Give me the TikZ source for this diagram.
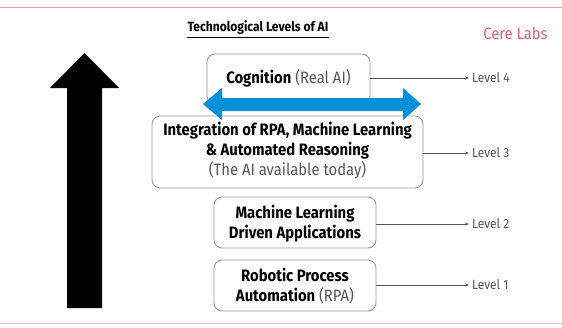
\documentclass[tikz,border=0pt]{standalone}
\usepackage{fontspec}
\setmainfont[FakeStretch=0.9]{Fira Sans}
\usetikzlibrary{arrows.meta}
\definecolor{boxgray}{HTML}{9A9A9A}
\definecolor{txtgray}{HTML}{555555}
\definecolor{arrowblue}{HTML}{0091D8}
\definecolor{cerered}{HTML}{D9646F}
\definecolor{rulepink}{HTML}{E8A3AA}
\definecolor{rulepale}{HTML}{F4C6D0}
\tikzset{
  levelbox/.style={draw=boxgray, line width=0.9pt, rounded corners=8pt, fill=white},
  boxtext/.style={align=center, font=\fontsize{16.5}{20}\selectfont, inner sep=0pt},
  levellabel/.style={anchor=west, text=txtgray, font=\fontsize{13.3}{15}\selectfont, inner sep=0pt},
  levelline/.style={draw=txtgray, line width=0.6pt, -{Stealth[length=4pt,width=3pt]}},
}
\newcommand{\lt}[1]{{\color{txtgray}#1}}
\begin{document}
\begin{tikzpicture}[x=1pt,y=-1pt]
\useasboundingbox (0,0) rectangle (562,327);
\fill[white] (0,0) rectangle (562,327);
\draw[rulepink, line width=1pt] (0,7) -- (562,7);
\draw[rulepale, line width=1pt] (0,323) -- (562,323);
% title
\node[inner sep=0pt, font=\fontsize{13.4}{15}\selectfont\bfseries] (title) at (258,28) {Technological Levels of AI};
\draw[line width=0.8pt] ([yshift=-2pt]title.south west) -- ([yshift=-2pt]title.south east);
\node[inner sep=0pt, text=cerered, font=\fontsize{16.4}{18}\selectfont] (cere) at (515.5,33) {Cere Labs};
% black arrow
\fill[black] (84.5,53) -- (119,88) -- (102,88) -- (102,308) -- (67,308) -- (67,88) -- (50,88) -- cycle;
% boxes
\node[levelbox, minimum width=163pt, minimum height=50pt] (cog) at (288.5,79) {};
\node[boxtext] (cogt) at (288.5,78) {\textbf{Cognition} \lt{(Real AI)}};
\node[levelbox, minimum width=271pt, minimum height=72pt] (integ) at (287.5,152) {};
\node[boxtext] (integt) at (287.5,151) {\textbf{Integration of RPA, Machine Learning}\\\textbf{\& Automated Reasoning}\\\lt{(The AI available today)}};
\node[levelbox, minimum width=162pt, minimum height=51pt] (ml) at (295,222.5) {};
\node[boxtext] (mlt) at (295,223.5) {\textbf{Machine Learning}\\\textbf{Driven Applications}};
\node[levelbox, minimum width=162pt, minimum height=51pt] (rpa) at (295,285.5) {};
\node[boxtext] (rpat) at (295,286) {\textbf{Robotic Process}\\\textbf{Automation} \lt{(RPA)}};
% blue double arrow
\fill[arrowblue] (203,104) -- (222,88) -- (222,98) -- (403,98) -- (403,88) -- (421,104) -- (403,120) -- (403,111) -- (222,111) -- (222,120) -- cycle;
% level labels
\node[levellabel] (l4) at (472,78) {Level 4};
\node[levellabel] (l3) at (472,153) {Level 3};
\node[levellabel] (l2) at (472,224) {Level 2};
\node[levellabel] (l1) at (472,285) {Level 1};
\draw[levelline] (cog.east |- l4.west) -- ([xshift=-3pt]l4.west);
\draw[levelline] (integ.east |- l3.west) -- ([xshift=-3pt]l3.west);
\draw[levelline] (ml.east |- l2.west) -- ([xshift=-3pt]l2.west);
\draw[levelline] (rpa.east |- l1.west) -- ([xshift=-3pt]l1.west);
\end{tikzpicture}
\end{document}
